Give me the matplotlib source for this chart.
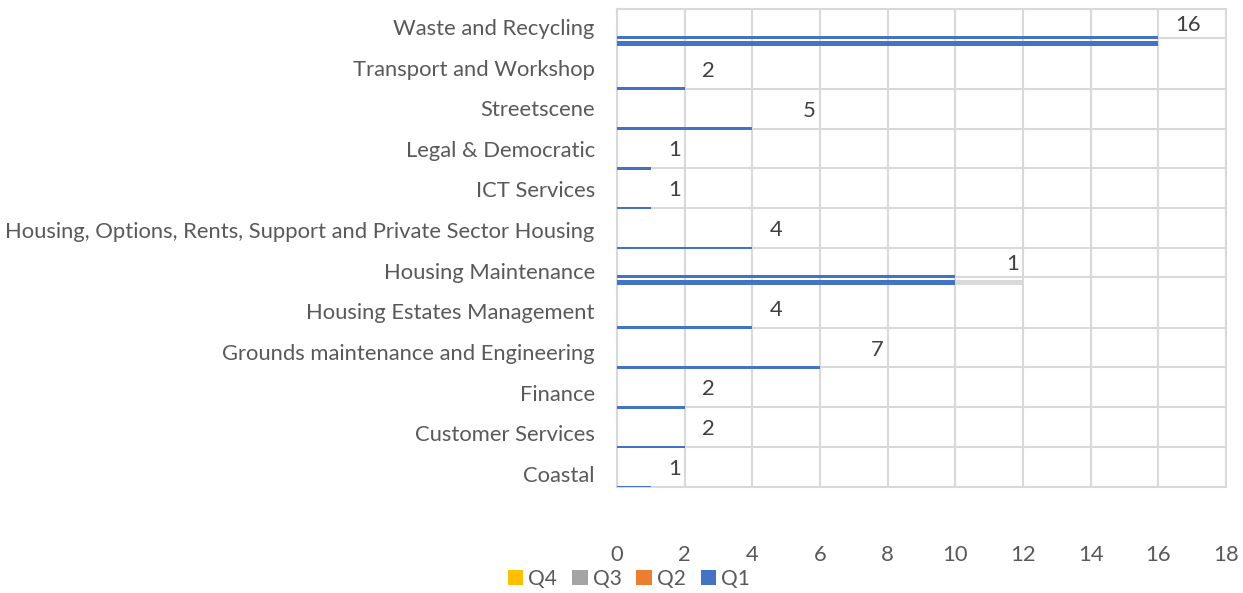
import numpy as np
import matplotlib.pyplot as plt

# categories listed top to bottom as in the chart
categories = ["Waste and Recycling", "Transport and Workshop", "Streetscene",
              "Legal & Democratic", "ICT Services",
              "Housing, Options, Rents, Support and Private Sector Housing",
              "Housing Maintenance", "Housing Estates Management",
              "Grounds maintenance and Engineering", "Finance",
              "Customer Services", "Coastal"]
q1 = [16, 2, 4, 1, 1, 4, 10, 4, 6, 2, 2, 1]
q2 = [0, 0, 0, 0, 0, 0, 0, 0, 0, 0, 0, 0]
q3 = [0, 0, 0, 0, 0, 0, 2, 0, 0, 0, 0, 0]
q4 = [0, 0, 0, 0, 0, 0, 0, 0, 0, 0, 0, 0]
label_text = [16, 2, 5, 1, 1, 4, 1, 4, 7, 2, 2, 1]
label_at = [16, 2, 5, 1, 1, 4, 11, 4, 7, 2, 2, 1]
x_ticks = [0, 2, 4, 6, 8, 10, 12, 14, 16, 18]

# rows whose bars are drawn as a thicker double bar
split_rows = ["Waste and Recycling", "Housing Maintenance"]

C_Q1, C_Q2, C_Q3, C_Q4 = "#4472C4", "#ED7D31", "#A5A5A5", "#FFC000"
GRID = "#D9D9D9"
TXT = "#595959"
FS = 15.8

plt.rcParams['font.family'] = ['Lato', 'DejaVu Sans']

fig = plt.figure(figsize=(12.43, 5.93), dpi=100)
ax = fig.add_axes([617/1243, 1-487/593, (1226-617)/1243, (487-9)/593])

idx = np.arange(len(categories))
split = np.array([c in split_rows for c in categories])
line_y = idx + 1 - 0.28*split

# row separators
ax.hlines(line_y[:-1], 0, 18, color=GRID, lw=1.5, zorder=0)

q1 = np.array(q1); q2 = np.array(q2); q3 = np.array(q3); q4 = np.array(q4)

# thin bars on the row lines
ax.barh(line_y, q1, height=0.06, color=C_Q1, zorder=3)

# thicker stacked bars for the split rows
ys = idx[split] + 0.87
ax.barh(ys, q1[split], height=0.11, color=C_Q1, zorder=3, label="Q1")
ax.barh(ys, q2[split], left=q1[split], height=0.11, color=C_Q2, zorder=3, label="Q2")
ax.barh(ys, q3[split], left=(q1+q2)[split], height=0.11, color="#D9D9D9", zorder=3)
ax.barh(ys, q4[split], left=(q1+q2+q3)[split], height=0.11, color=C_Q4, zorder=3, label="Q4")
ax.barh(ys, 0, height=0.11, color=C_Q3, label="Q3")

# data labels
lab_y = idx + 0.55 - 0.15*split
for x, y, t in zip(label_at, lab_y, label_text):
    ax.annotate(str(t), (x, y), xytext=(17, 0), textcoords='offset pixels',
                ha='left', va='center', fontsize=FS, color="#404040")

ax.set_xlim(0, 18)
ax.set_ylim(12, 0)
ax.set_xticks(x_ticks)
ax.set_yticks(idx + 0.45 + 0.02*idx)
ax.set_yticklabels(categories)
ax.xaxis.grid(True, color=GRID, lw=1.5, zorder=0)
ax.set_axisbelow(True)
for s in ax.spines.values():
    s.set_color(GRID)
    s.set_linewidth(1.5)
ax.tick_params(axis='both', length=0, labelsize=FS, colors=TXT)
ax.tick_params(axis='x', pad=42)
ax.tick_params(axis='y', pad=16)

h, l = ax.get_legend_handles_labels()
want = ["Q4", "Q3", "Q2", "Q1"]
fig.legend([h[l.index(w)] for w in want], want, loc='center',
           bbox_to_anchor=(0.506, 0.024), ncol=4, frameon=False, fontsize=15,
           handlelength=0.75, handleheight=0.75, handletextpad=0.25,
           columnspacing=0.7, labelcolor=TXT)

fig.savefig("out.png", dpi=100)
